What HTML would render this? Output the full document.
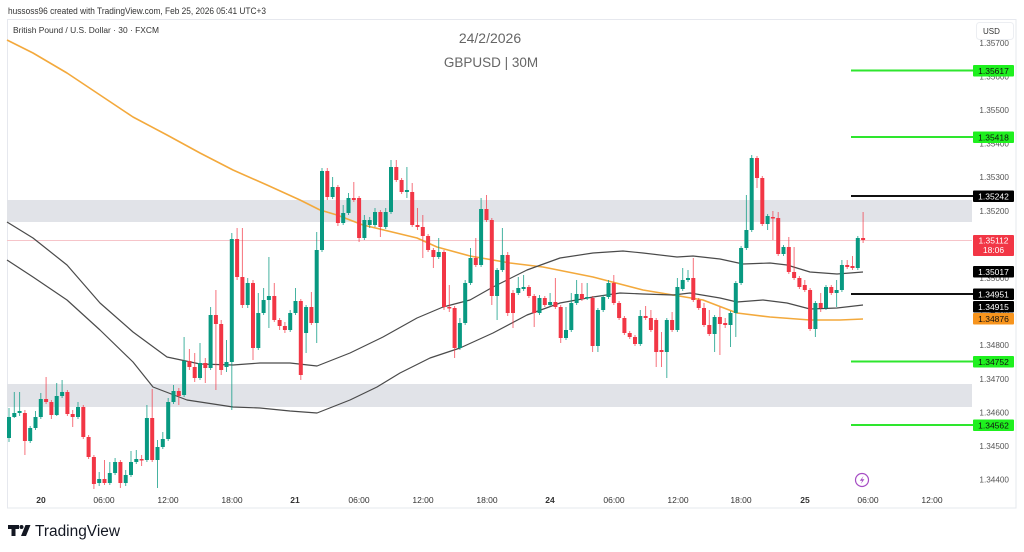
<!DOCTYPE html>
<html><head><meta charset="utf-8"><style>
html,body{margin:0;padding:0;background:#fff;}
svg{display:block;font-family:"Liberation Sans",sans-serif;}
</style></head><body>
<svg width="1024" height="552" viewBox="0 0 1024 552" xmlns="http://www.w3.org/2000/svg">
<rect x="0" y="0" width="1024" height="552" fill="#fff"/>
<text x="8" y="14" font-size="9.5" fill="#333" textLength="258" lengthAdjust="spacingAndGlyphs">hussoss96 created with TradingView.com, Feb 25, 2026 05:41 UTC+3</text>
<rect x="7.5" y="19.5" width="1008.5" height="488.5" fill="#fff" stroke="#e6e8ee" stroke-width="1"/>
<text x="13" y="33" font-size="8" fill="#333" textLength="146" lengthAdjust="spacingAndGlyphs">British Pound / U.S. Dollar · 30 · FXCM</text>
<text x="490" y="43" font-size="14" fill="#666" text-anchor="middle">24/2/2026</text>
<text x="491" y="67" font-size="13.5" fill="#666" text-anchor="middle">GBPUSD | 30M</text>

<!-- zones -->
<rect x="7" y="200" width="965" height="22" fill="#e1e3e8"/>
<rect x="7" y="384" width="965" height="23" fill="#e1e3e8"/>
<!-- current price line -->
<line x1="7" y1="240.5" x2="972" y2="240.5" stroke="#f6c4c9" stroke-width="1"/>

<!-- indicators -->
<polyline fill="none" stroke="#f3a93c" stroke-width="1.6" stroke-linejoin="round" points="7,40 33,53 67,73 100,95 133,117 167,135 200,153 233,170 267,185 300,200 320,210 337,215 363,225 417,238 437,247 470,256 510,263 543,267 593,277 643,290 673,295 703,300 737,313 770,317 810,320 840,320 863,319"/>
<polyline fill="none" stroke="#4a4a4a" stroke-width="1.2" stroke-linejoin="round" points="7,222 33,238 67,265 100,303 133,332 167,357 200,364 233,365 260,363 290,363 317,366 350,353 383,337 417,318 443,307 470,300 493,287 527,270 560,258 593,253 623,251 643,253 677,257 693,256 720,259 743,264 770,263 787,265 810,272 837,274 863,272"/>
<polyline fill="none" stroke="#4a4a4a" stroke-width="1.2" stroke-linejoin="round" points="7,260 33,277 67,300 100,330 133,362 153,387 187,400 233,407 260,408 290,411 317,413 350,400 377,387 400,373 430,358 460,348 493,333 527,315 560,303 593,297 620,293 643,294 673,295 690,293 720,298 737,302 763,300 787,303 810,309 837,308 863,305"/>

<!-- green wicks -->
<path fill="none" stroke="#089981" stroke-opacity="0.75" stroke-width="1" d="M9 408V442 M14.3 392V418 M19.6 392V416 M30.2 426V443 M35.5 411V430 M40.8 393V419 M56.7 383V416 M62.1 380V398 M78 402V419 M99.2 472V486 M109.8 462V485 M115.1 458V475 M125.7 470V486 M131 451V477 M136.3 450V464 M146.9 405V462 M157.5 440V488 M162.8 432V449 M168.2 398V441 M173.5 385V404 M184.1 337V397 M200 343V380 M210.6 307V370 M226.5 340V372 M231.8 233V410 M247.7 278V308 M258.3 293V350 M263.6 288V315 M268.9 257V328 M290.2 310V332 M295.5 288V315 M306.1 305V353 M316.7 232V343 M322 168V252 M332.6 177V199 M343.2 205V225 M348.5 193V215 M364.4 215V240 M369.7 217V228 M375 208V227 M385.7 208V229 M391 160V214 M406.9 167V198 M438.7 238V259 M459.9 318V350 M465.2 280V325 M470.5 248V285 M481.1 198V267 M497.1 268V320 M502.4 228V272 M518.3 277V295 M523.6 275V291 M539.5 295V315 M550.1 293V307 M566 307V340 M571.3 293V332 M576.6 280V305 M587.2 283V300 M597.9 308V352 M603.2 295V312 M608.5 280V299 M640.3 310V346 M666.8 318V378 M677.4 278V332 M682.7 268V291 M688 270V282 M714.6 315V352 M730.5 311V347 M735.8 281V337 M741.1 246V285 M746.4 195V250 M751.7 155V232 M767.6 214V230 M783.5 245V256 M815.4 301V337 M826 285V310 M836.6 280V307 M841.9 260V292 M857.8 236V270"/>
<!-- red wicks -->
<path fill="none" stroke="#f23645" stroke-opacity="0.7" stroke-width="1" d="M24.9 410V455 M46.1 377V404 M51.4 400V419 M67.4 390V416 M72.7 410V427 M83.3 405V439 M88.6 435V459 M93.9 455V489 M104.5 460V485 M120.4 460V488 M141.6 455V466 M152.2 389V462 M178.8 388V405 M189.4 349V370 M194.7 353V382 M205.3 358V383 M215.9 290V390 M221.2 320V375 M237.1 228V280 M242.4 228V308 M253 280V360 M274.3 283V322 M279.6 318V330 M284.9 322V333 M300.8 299V380 M311.4 292V325 M327.3 168V200 M337.9 185V226 M353.8 182V202 M359.1 196V242 M380.4 210V237 M396.3 160V182 M401.6 178V194 M412.2 183V227 M417.5 208V230 M422.8 215V258 M428.1 234V252 M433.4 248V268 M444 250V310 M449.3 285V312 M454.6 306V358 M475.8 238V267 M486.5 195V222 M491.8 218V305 M507.7 252V316 M513 290V328 M528.9 285V298 M534.2 294V327 M544.8 296V307 M555.4 278V309 M560.7 305V343 M581.9 283V301 M592.6 296V352 M613.8 275V305 M619.1 301V320 M624.4 316V335 M629.7 331V339 M635 335V346 M645.6 306V320 M650.9 310V332 M656.2 318V367 M661.5 332V367 M672.1 312V332 M693.3 258V302 M698.7 298V310 M704 303V327 M709.3 310V336 M719.9 307V355 M725.2 318V328 M757 156V188 M762.3 176V226 M772.9 211V240 M778.2 212V256 M788.8 237V274 M794.1 247V280 M799.4 276V289 M804.8 280V292 M810.1 288V331 M820.7 293V312 M831.3 285V295 M847.2 260V269 M852.5 256V270 M863.1 212V243"/>
<!-- green bodies -->
<path fill="#089981" d="M7 417h4v21h-4z M12.3 413h4v4h-4z M17.6 411h4v2h-4z M28.2 428h4v13h-4z M33.5 417h4v11h-4z M38.8 399h4v18h-4z M54.7 396h4v19h-4z M60.1 392h4v4h-4z M76 407h4v10h-4z M97.2 479h4v4h-4z M107.8 473h4v10h-4z M113.1 462h4v11h-4z M123.7 475h4v8h-4z M129 462h4v13h-4z M134.3 459h4v3h-4z M144.9 418h4v42h-4z M155.5 447h4v13h-4z M160.8 439h4v8h-4z M166.2 402h4v37h-4z M171.5 391h4v11h-4z M182.1 361h4v34h-4z M198 363h4v15h-4z M208.6 315h4v53h-4z M224.5 362h4v5h-4z M229.8 239h4v123h-4z M245.7 283h4v22h-4z M256.3 313h4v35h-4z M261.6 300h4v13h-4z M266.9 296h4v4h-4z M288.2 313h4v17h-4z M293.5 301h4v12h-4z M304.1 307h4v26h-4z M314.7 250h4v73h-4z M320 171h4v79h-4z M330.6 187h4v10h-4z M341.2 213h4v10h-4z M346.5 198h4v15h-4z M362.4 220h4v18h-4z M367.7 220h4v5h-4z M373 212h4v13h-4z M383.7 212h4v15h-4z M389 167h4v45h-4z M404.9 190h4v2h-4z M436.7 252h4v5h-4z M457.9 323h4v25h-4z M463.2 283h4v40h-4z M468.5 258h4v25h-4z M479.1 209h4v56h-4z M495.1 270h4v26h-4z M500.4 255h4v15h-4z M516.3 288h4v5h-4z M521.6 287h4v2h-4z M537.5 298h4v15h-4z M548.1 302h4v3h-4z M564 330h4v8h-4z M569.3 303h4v27h-4z M574.6 294h4v9h-4z M585.2 297h4v1.5h-4z M595.9 310h4v36h-4z M601.2 297h4v13h-4z M606.5 283h4v14h-4z M638.3 316h4v28h-4z M664.8 320h4v32h-4z M675.4 287h4v43h-4z M680.7 280h4v9h-4z M686 278h4v2h-4z M712.6 317h4v17h-4z M728.5 313h4v12h-4z M733.8 283h4v30h-4z M739.1 248h4v35h-4z M744.4 230h4v18h-4z M749.7 158h4v72h-4z M765.6 216h4v8h-4z M781.5 247h4v7h-4z M813.4 303h4v26h-4z M824 287h4v21h-4z M834.6 290h4v3h-4z M839.9 265h4v25h-4z M855.8 238h4v30h-4z"/>
<!-- red bodies -->
<path fill="#f23645" d="M22.9 413h4v28h-4z M44.1 399h4v3h-4z M49.4 402h4v13h-4z M65.4 392h4v22h-4z M70.7 414h4v3h-4z M81.3 407h4v30h-4z M86.6 437h4v20h-4z M91.9 457h4v27h-4z M102.5 479h4v4h-4z M118.4 462h4v21h-4z M139.6 459h4v1.5h-4z M150.2 418h4v42h-4z M176.8 391h4v5h-4z M187.4 361h4v6h-4z M192.7 367h4v11h-4z M203.3 363h4v5h-4z M213.9 315h4v9h-4z M219.2 324h4v46h-4z M235.1 239h4v38h-4z M240.4 277h4v28h-4z M251 283h4v65h-4z M272.3 296h4v24h-4z M277.6 320h4v6h-4z M282.9 326h4v4h-4z M298.8 301h4v74h-4z M309.4 307h4v16h-4z M325.3 171h4v26h-4z M335.9 187h4v36h-4z M351.8 198h4v2h-4z M357.1 198h4v40h-4z M378.4 212h4v15h-4z M394.3 167h4v13h-4z M399.6 180h4v12h-4z M410.2 192h4v33h-4z M415.5 225h4v2h-4z M420.8 227h4v9h-4z M426.1 236h4v14h-4z M431.4 250h4v7h-4z M442 252h4v55h-4z M447.3 307h4v1.5h-4z M452.6 308h4v40h-4z M473.8 258h4v7h-4z M484.5 209h4v11h-4z M489.8 220h4v76h-4z M505.7 255h4v58h-4z M511 293h4v20h-4z M526.9 287h4v9h-4z M532.2 296h4v17h-4z M542.8 298h4v7h-4z M553.4 302h4v5h-4z M558.7 307h4v31h-4z M579.9 294h4v5h-4z M590.6 298h4v48h-4z M611.8 283h4v20h-4z M617.1 303h4v15h-4z M622.4 318h4v15h-4z M627.7 333h4v4h-4z M633 337h4v7h-4z M643.6 316h4v2h-4z M648.9 318h4v12h-4z M654.2 320h4v32h-4z M659.5 350h4v2h-4z M670.1 320h4v10h-4z M691.3 278h4v22h-4z M696.7 300h4v8h-4z M702 308h4v17h-4z M707.3 325h4v9h-4z M717.9 317h4v7h-4z M723.2 323h4v2h-4z M755 158h4v20h-4z M760.3 178h4v46h-4z M770.9 217h4v1.5h-4z M776.2 218h4v36h-4z M786.8 247h4v25h-4z M792.1 272h4v6h-4z M797.4 278h4v9h-4z M802.8 285h4v5h-4z M808.1 290h4v39h-4z M818.7 303h4v5h-4z M829.3 287h4v6h-4z M845.2 265h4v2h-4z M850.5 266h4v2h-4z M861.1 238h4v2h-4z"/>

<!-- horizontal level lines -->
<g stroke-width="2">
<line x1="851" y1="70.5" x2="973" y2="70.5" stroke="#2ee62e"/>
<line x1="851" y1="137" x2="973" y2="137" stroke="#2ee62e"/>
<line x1="851" y1="196" x2="973" y2="196" stroke="#111"/>
<line x1="851" y1="294" x2="973" y2="294" stroke="#111"/>
<line x1="851" y1="361.5" x2="973" y2="361.5" stroke="#2ee62e"/>
<line x1="851" y1="425" x2="973" y2="425" stroke="#2ee62e"/>
</g>

<!-- price axis ticks -->
<g font-size="8.2" fill="#555" text-anchor="end">
<text x="1009" y="46">1.35700</text>
<text x="1009" y="79.5">1.35600</text>
<text x="1009" y="113">1.35500</text>
<text x="1009" y="146.5">1.35400</text>
<text x="1009" y="180">1.35300</text>
<text x="1009" y="214">1.35200</text>
<text x="1009" y="247.5">1.35100</text>
<text x="1009" y="281">1.35000</text>
<text x="1009" y="314.5">1.34900</text>
<text x="1009" y="348">1.34800</text>
<text x="1009" y="382">1.34700</text>
<text x="1009" y="415.5">1.34600</text>
<text x="1009" y="449">1.34500</text>
<text x="1009" y="482.5">1.34400</text>
</g>
<!-- USD box -->
<rect x="976.5" y="22.5" width="37" height="17" rx="3" fill="#fff" stroke="#eceef2"/>
<text x="983" y="34" font-size="8" fill="#333">USD</text>

<!-- price labels -->
<g font-size="8.5" text-anchor="middle">
<rect x="973" y="65" width="41" height="11.5" rx="1" fill="#1ef01e"/>
<text x="993.5" y="74" fill="#111">1.35617</text>
<rect x="973" y="131.5" width="41" height="11.5" rx="1" fill="#1ef01e"/>
<text x="993.5" y="140.5" fill="#111">1.35418</text>
<rect x="973" y="190.5" width="41" height="11.5" rx="1" fill="#000"/>
<text x="993.5" y="199.5" fill="#fff">1.35242</text>
<rect x="973" y="235" width="41" height="21" rx="1" fill="#f23645"/>
<text x="993.5" y="243.5" fill="#fff">1.35112</text>
<text x="993.5" y="253" fill="#fff">18:06</text>
<rect x="973" y="266" width="41" height="11.5" rx="1" fill="#000"/>
<text x="993.5" y="275" fill="#fff">1.35017</text>
<rect x="973" y="288.5" width="41" height="11.5" rx="1" fill="#000"/>
<text x="993.5" y="297.5" fill="#fff">1.34951</text>
<rect x="973" y="301" width="41" height="11.5" rx="1" fill="#000"/>
<text x="993.5" y="310" fill="#fff">1.34915</text>
<rect x="973" y="313" width="41" height="11.5" rx="1" fill="#f7941d"/>
<text x="993.5" y="322" fill="#111">1.34876</text>
<rect x="973" y="356" width="41" height="11.5" rx="1" fill="#1ef01e"/>
<text x="993.5" y="365" fill="#111">1.34752</text>
<rect x="973" y="419.5" width="41" height="11.5" rx="1" fill="#1ef01e"/>
<text x="993.5" y="428.5" fill="#111">1.34562</text>
</g>

<!-- lightning icon -->
<circle cx="862" cy="480" r="6.5" fill="#fff" stroke="#a64dc4" stroke-width="1.2"/>
<path d="M863.5 476 L859.8 480.7 L862.2 480.7 L860.8 484 L864.4 479.2 L862 479.2 Z" fill="#a64dc4"/>

<!-- time axis -->
<g font-size="8.5" fill="#333" text-anchor="middle">
<text x="41" y="503" font-weight="bold">20</text>
<text x="104" y="503">06:00</text>
<text x="168" y="503">12:00</text>
<text x="232" y="503">18:00</text>
<text x="295" y="503" font-weight="bold">21</text>
<text x="359" y="503">06:00</text>
<text x="423" y="503">12:00</text>
<text x="487" y="503">18:00</text>
<text x="550" y="503" font-weight="bold">24</text>
<text x="614" y="503">06:00</text>
<text x="678" y="503">12:00</text>
<text x="741" y="503">18:00</text>
<text x="805" y="503" font-weight="bold">25</text>
<text x="868" y="503">06:00</text>
<text x="932" y="503">12:00</text>
</g>

<!-- TradingView logo -->
<g fill="#131722">
<path d="M8 525h11v4h-3.5v7h-4v-7H8z"/>
<circle cx="21.5" cy="527" r="2"/>
<path d="M25.5 525h5l-4.5 11h-5z"/>
</g>
<text x="35" y="536" font-size="15.5" fill="#131722" textLength="85" lengthAdjust="spacingAndGlyphs">TradingView</text>
</svg>
</body></html>
